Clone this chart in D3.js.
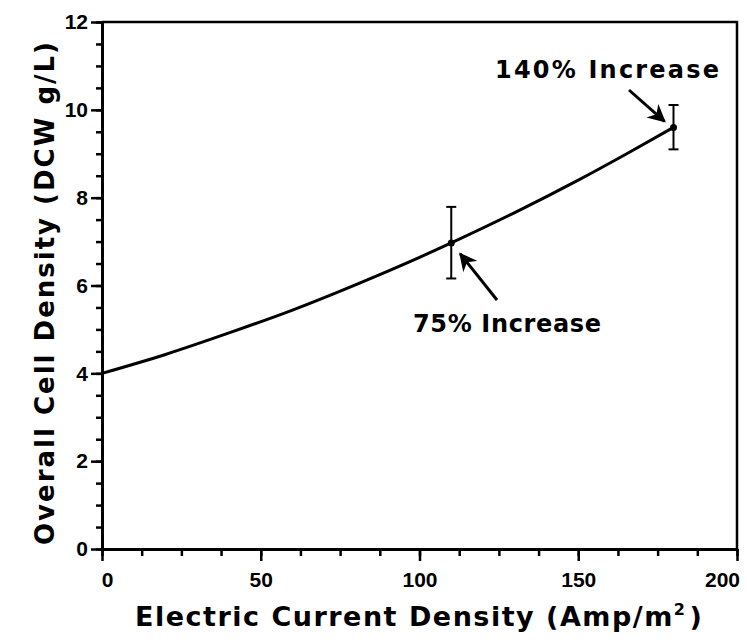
<!DOCTYPE html>
<html>
<head>
<meta charset="utf-8">
<script src="https://cdn.jsdelivr.net/npm/d3@7"></script>
<style>
  body { margin: 0; background: #fff; }
  text { font-family: "Liberation Sans", Arial, sans-serif; font-weight: bold; }
  .big { font-family: "DejaVu Sans", sans-serif; }
</style>
</head>
<body>
<div id="chart"></div>
<script>
// data
const curveX = [0, 20, 40, 60, 80, 100, 110, 130, 150, 165, 180];
const curveY = [4.0, 4.43, 4.92, 5.44, 6.02, 6.64, 6.97, 7.66, 8.40, 8.99, 9.6];

const pointX = [110, 180];
const pointY = [6.97, 9.6];
const errLow = [6.16, 9.1];
const errHigh = [7.79, 10.11];

const xTicks = [0, 50, 100, 150, 200];
const yTicks = [0, 2, 4, 6, 8, 10, 12];

const width = 747, height = 643;
const margin = { top: 22, right: 10, bottom: 94, left: 102 };

const svg = d3.select("#chart")
  .append("svg")
  .attr("width", width)
  .attr("height", height);

const x = d3.scaleLinear()
  .domain([0, 200])
  .range([margin.left, width - margin.right]);

const y = d3.scaleLinear()
  .domain([0, 12])
  .range([height - margin.bottom, margin.top]);

// minor ticks
svg.append("g")
  .attr("transform", `translate(0,${height - margin.bottom})`)
  .call(d3.axisBottom(x).tickValues(d3.range(0, 201, 12.5)).tickSize(7).tickFormat(""))
  .call(g => g.select(".domain").remove())
  .call(g => g.selectAll("line").attr("stroke-width", 2.5));

svg.append("g")
  .attr("transform", `translate(${margin.left},0)`)
  .call(d3.axisLeft(y).tickValues(d3.range(0, 12.01, 0.5)).tickSize(6).tickFormat(""))
  .call(g => g.select(".domain").remove())
  .call(g => g.selectAll("line").attr("stroke-width", 2.5));

// major axes
svg.append("g")
  .attr("transform", `translate(0,${height - margin.bottom})`)
  .call(d3.axisBottom(x).tickValues(xTicks).tickSize(12).tickSizeOuter(0).tickPadding(11))
  .call(g => g.select(".domain").attr("stroke-width", 3))
  .call(g => g.selectAll("line").attr("stroke-width", 2.5))
  .call(g => g.selectAll("text").attr("font-size", 21).attr("fill", "#000")
    .attr("dx", d => d === 0 ? 5 : d === 200 ? -15 : 0));

svg.append("g")
  .attr("transform", `translate(${margin.left},0)`)
  .call(d3.axisLeft(y).tickValues(yTicks).tickSize(11).tickSizeOuter(0).tickPadding(3))
  .call(g => g.select(".domain").attr("stroke-width", 3))
  .call(g => g.selectAll("line").attr("stroke-width", 2.5))
  .call(g => g.selectAll("text").attr("font-size", 21).attr("fill", "#000"));

// top and right frame
svg.append("path")
  .attr("d", `M${x(0)},${y(12)}H${x(200)}V${y(0)}`)
  .attr("fill", "none")
  .attr("stroke", "#000")
  .attr("stroke-width", 2.5);

// fitted curve
const line = d3.line()
  .x((d, i) => x(curveX[i]))
  .y(d => y(d))
  .curve(d3.curveMonotoneX);

svg.append("path")
  .datum(curveY)
  .attr("d", line)
  .attr("fill", "none")
  .attr("stroke", "#000")
  .attr("stroke-width", 3);

// error bars
const eb = svg.append("g").attr("stroke", "#000").attr("stroke-width", 2);
pointX.forEach((px, i) => {
  eb.append("line").attr("x1", x(px)).attr("x2", x(px)).attr("y1", y(errLow[i])).attr("y2", y(errHigh[i]));
  eb.append("line").attr("x1", x(px) - 5).attr("x2", x(px) + 5).attr("y1", y(errLow[i])).attr("y2", y(errLow[i]));
  eb.append("line").attr("x1", x(px) - 5).attr("x2", x(px) + 5).attr("y1", y(errHigh[i])).attr("y2", y(errHigh[i]));
});

svg.selectAll("circle")
  .data(pointY)
  .enter()
  .append("circle")
  .attr("cx", (d, i) => x(pointX[i]))
  .attr("cy", d => y(d))
  .attr("r", 3.5)
  .attr("fill", "#000");

// arrows
svg.append("defs").append("marker")
  .attr("id", "head")
  .attr("viewBox", "0 0 10 10")
  .attr("refX", 9).attr("refY", 5)
  .attr("markerWidth", 6).attr("markerHeight", 6)
  .attr("markerUnits", "strokeWidth")
  .attr("orient", "auto")
  .append("path")
  .attr("d", "M0,0L10,5L0,10L3,5Z")
  .attr("fill", "#000");

svg.append("line")
  .attr("x1", 497).attr("y1", 300)
  .attr("x2", x(110) + 9).attr("y2", y(6.97) + 11)
  .attr("stroke", "#000").attr("stroke-width", 3)
  .attr("marker-end", "url(#head)");

svg.append("line")
  .attr("x1", 629).attr("y1", 90)
  .attr("x2", x(180) - 9).attr("y2", y(9.6) - 6)
  .attr("stroke", "#000").attr("stroke-width", 3)
  .attr("marker-end", "url(#head)");

// annotations
svg.append("text")
  .attr("class", "big")
  .attr("x", 413).attr("y", 332)
  .attr("font-size", 24)
  .attr("textLength", 188)
  .text("75% Increase");

svg.append("text")
  .attr("class", "big")
  .attr("x", 495).attr("y", 78)
  .attr("font-size", 24)
  .attr("textLength", 224)
  .text("140% Increase");

// axis titles
svg.append("text")
  .attr("class", "big")
  .attr("x", 135).attr("y", 626)
  .attr("font-size", 27)
  .attr("letter-spacing", "1.5px")
  .text("Electric Current Density (Amp/m")
  .call(t => t.append("tspan").attr("font-size", 16).attr("dy", -11).text("2"))
  .call(t => t.append("tspan").attr("dy", 11).attr("dx", 3).text(")"));

svg.append("text")
  .attr("class", "big")
  .attr("transform", `translate(54,545) rotate(-90)`)
  .attr("font-size", 26)
  .attr("textLength", 503)
  .text("Overall Cell Density (DCW g/L)");
</script>
</body>
</html>
